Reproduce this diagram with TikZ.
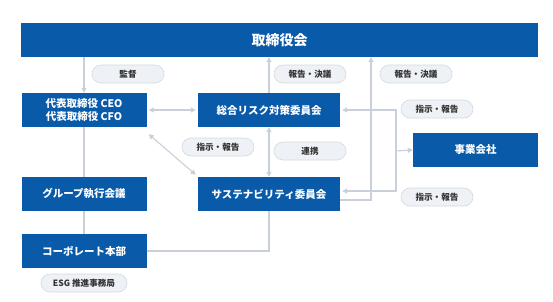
\documentclass[tikz,border=0pt]{standalone}
\usepackage{fontspec}
\setmainfont{Noto Sans CJK JP}
\usetikzlibrary{arrows.meta}
\definecolor{boxblue}{HTML}{0A5AAA}
\definecolor{pillfill}{HTML}{EEF2F6}
\definecolor{pillline}{HTML}{D3D9E0}
\definecolor{linkgray}{HTML}{C9D0D9}
\definecolor{pilltext}{HTML}{333333}
\tikzset{
  orgbox/.style={fill=boxblue, text=white, font=\bfseries\fontsize{10.5}{13}\selectfont,
    minimum width=125pt, minimum height=34pt, inner sep=0pt, align=center},
  pill/.style={fill=pillfill, draw=pillline, line width=0.6pt, rounded corners=9pt,
    text=pilltext, font=\bfseries\fontsize{8.6}{10}\selectfont,
    minimum width=72pt, minimum height=18pt, inner sep=0pt},
  link/.style={draw=linkgray, line width=1.1pt},
  arr/.style={link, -{Triangle[width=5pt,length=5pt]}},
  darr/.style={link, {Triangle[width=5pt,length=5pt]}-{Triangle[width=5pt,length=5pt]}}
}
\begin{document}
\begin{tikzpicture}[x=1pt, y=-1pt]

  \useasboundingbox (0,0) rectangle (553,301);

  % boxes
  \node[orgbox, minimum width=517pt, font=\bfseries\fontsize{14}{16}\selectfont] (board) at (279.5,40) {取締役会};
  \node[orgbox] (ceo)   at (84,110)  {代表取締役 CEO\\代表取締役 CFO};
  \node[orgbox] (group) at (84,194)  {グループ執行会議};
  \node[orgbox] (corp)  at (84,251)  {コーポレート本部};
  \node[orgbox, minimum width=142pt] (risk) at (269,110) {総合リスク対策委員会};
  \node[orgbox, minimum width=142pt] (sust) at (269,194) {サステナビリティ委員会};
  \node[orgbox] (biz)   at (475.5,150) {事業会社};

  % labels
  \node[pill] (kansa)  at (128,74)  {監督};
  \node[pill] (rep1)   at (310,74)  {報告・決議};
  \node[pill] (rep2)   at (416,74)  {報告・決議};
  \node[pill] (inst1)  at (437,109) {指示・報告};
  \node[pill] (inst2)  at (218,147) {指示・報告};
  \node[pill] (renkei) at (310,151) {連携};
  \node[pill] (inst3)  at (437,197) {指示・報告};
  \node[pill, minimum width=86pt] (esg) at (84,283) {ESG 推進事務局};

  % connectors
  \coordinate (hub) at (396,151);
  \draw[arr] (board.south -| ceo) -- (ceo.north);
  \draw[link] (ceo.south) -- (group.north);
  \draw[link] (group.south) -- (corp.north);
  \draw[darr] (ceo.east) ++(2,0) -- ([xshift=-2pt]risk.west);
  \draw[darr] ([shift={(2pt,-7pt)}]ceo.south east) -- ([shift={(-2pt,2pt)}]sust.north west);
  \draw[darr] (risk.south) ++(0,0) -- (sust.north);
  \draw[arr] (risk.north) -- (board.south -| risk);
  \draw[arr] ([yshift=-6pt]sust.east) -| ([xshift=371pt-279.5pt]board.south);
  \draw[arr] (hub) -- (biz.west);
  \draw[arr] (hub) |- ([xshift=2pt]risk.east);
  \draw[arr] (hub) |- ([shift={(2pt,3pt)}]sust.east);
  \draw[link] (corp.east) -| (sust.south);

\end{tikzpicture}
\end{document}
